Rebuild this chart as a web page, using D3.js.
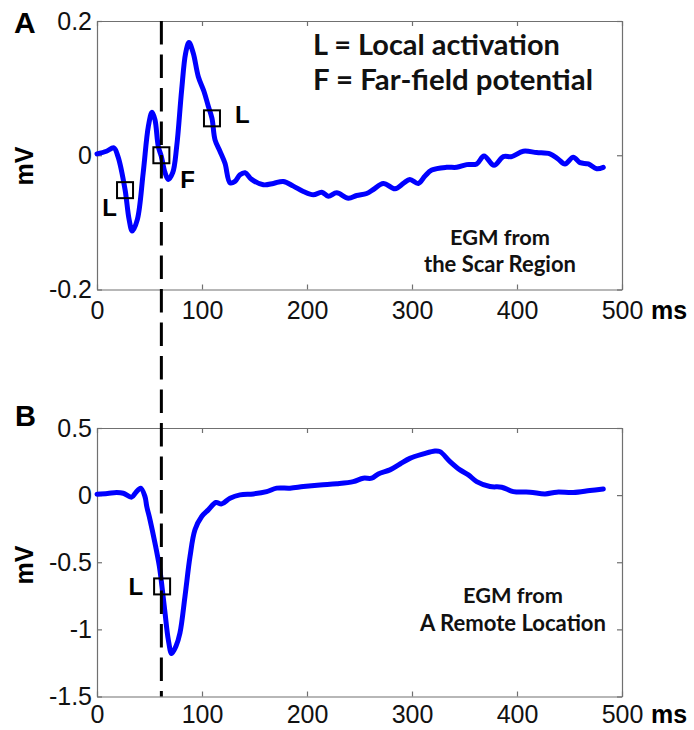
<!DOCTYPE html>
<html>
<head>
<meta charset="utf-8">
<script src="https://cdn.jsdelivr.net/npm/d3@7"></script>
<style>
  html, body { margin: 0; padding: 0; background: #fff; }
  svg { display: block; }
</style>
</head>
<body>
<svg id="fig" width="694" height="730"></svg>
<script>
// Electrogram recorded in the scar region (time in ms, voltage in mV)
const scarTime = [0, 9, 16, 20, 26.7, 30.5, 33.6, 38.4, 44, 48.9, 52.4, 55.2, 58.4, 61.3, 64.8, 67.9,
  72.1, 75.9, 80.6, 84.4, 87.6, 91.7, 96.5, 101.9, 106, 109.5, 112.4, 117.1, 121.9, 126.7, 131.4,
  136.2, 141, 147.3, 158.4, 168, 177.4, 187, 196.5, 206, 214, 220.3, 228.3, 239.4, 247.3, 256.8,
  263.2, 272.7, 283.8, 291.7, 298, 306, 312.4, 318.8, 333, 342.6, 352.1, 361.6, 368.6, 378.1, 387,
  394.9, 406, 418.7, 431.4, 439.4, 445.7, 453.6, 460, 467.9, 475.9, 482.2];
const scarMv = [0.002, 0.006, 0.011, -0.002, -0.051, -0.095, -0.113, -0.096, -0.026, 0.043, 0.064,
  0.053, 0.013, -0.002, -0.026, -0.036, -0.026, 0.013, 0.097, 0.152, 0.168, 0.152, 0.117, 0.095,
  0.073, 0.055, 0.023, 0.006, -0.012, -0.041, -0.039, -0.029, -0.026, -0.036, -0.044, -0.042,
  -0.039, -0.046, -0.054, -0.059, -0.055, -0.061, -0.056, -0.064, -0.060, -0.057, -0.051, -0.042,
  -0.050, -0.042, -0.036, -0.042, -0.031, -0.022, -0.018, -0.018, -0.014, -0.013, -0.001, -0.015,
  -0.002, -0.002, 0.006, 0.004, 0.002, -0.006, -0.013, -0.003, -0.011, -0.013, -0.020, -0.018];

// Electrogram recorded at a remote location
const remoteTime = [0, 10, 18.7, 25, 33, 37, 41.6, 45.7, 47.4, 50.5, 55.2, 59.4, 61.9, 64.8, 67.9,
  71.1, 75.2, 79, 83.8, 88.6, 93.3, 99.7, 106, 113.3, 118.7, 126.7, 136.2, 148.9, 161.6, 171.1,
  183.8, 196.5, 212.4, 228.3, 244.1, 253.6, 261.6, 267.9, 279, 288.6, 298, 310.8, 321.9, 326.7,
  336.2, 345.7, 353.7, 361.6, 374.3, 385.4, 396.5, 412.4, 426.7, 437.8, 453.6, 469.5, 482.2];
const remoteMv = [0.007, 0.012, 0.019, 0.014, -0.015, 0.02, 0.052, -0.011, -0.085, -0.184, -0.357,
  -0.531, -0.682, -0.878, -1.076, -1.18, -1.126, -1.027, -0.754, -0.457, -0.258, -0.159, -0.110,
  -0.055, -0.065, -0.023, 0.002, 0.009, 0.026, 0.052, 0.052, 0.064, 0.076, 0.085, 0.101, 0.126,
  0.126, 0.158, 0.188, 0.232, 0.274, 0.307, 0.329, 0.324, 0.250, 0.188, 0.151, 0.101, 0.064, 0.059,
  0.026, 0.022, 0.009, 0.022, 0.019, 0.034, 0.046];

// Marked activation points
const scarMarkTime = [26.7, 61.3, 109.5];
const scarMarkMv = [-0.052, 0, 0.055];
const scarMarkLabel = ["L", "F", "L"];
const remoteMarkTime = [62];
const remoteMarkMv = [-0.68];
const remoteMarkLabel = ["L"];

// Reference time shared by both recordings
const refTime = 61.3;

// Axis ticks
const xTicks = [0, 100, 200, 300, 400, 500];
const xTickLabels = ["0", "100", "200", "300", "400", "500"];
const yTicksA = [-0.2, 0, 0.2];
const yTickLabelsA = ["-0.2", "0", "0.2"];
const yTicksB = [-1.5, -1, -0.5, 0, 0.5];
const yTickLabelsB = ["-1.5", "-1", "-0.5", "0", "0.5"];

const svg = d3.select("#fig");
svg.append("rect").attr("width", 694).attr("height", 730).attr("fill", "#fff");

const tickFont = "'Liberation Sans', Arial, sans-serif";
const noteFont = "Lato, 'Open Sans', sans-serif";
const axisColor = "#707070";

const x = d3.scaleLinear().domain([0, 500]).range([97, 622]);
const yA = d3.scaleLinear().domain([-0.2, 0.2]).range([289.5, 21]);
const yB = d3.scaleLinear().domain([-1.5, 0.5]).range([696.5, 428]);

function drawAxes(y, yTicks, yLabels, pad) {
  const [y0, y1] = y.range();
  const [x0, x1] = x.range();
  const fmt = (vals, labels) => d => labels[vals.indexOf(d)];

  const bottom = svg.append("g").attr("transform", `translate(0,${y0})`)
    .call(d3.axisBottom(x).tickValues(xTicks).tickFormat(fmt(xTicks, xTickLabels))
      .tickSizeInner(-5).tickSizeOuter(0).tickPadding(pad));
  const top = svg.append("g").attr("transform", `translate(0,${y1})`)
    .call(d3.axisTop(x).tickValues(xTicks).tickFormat("").tickSizeInner(-5).tickSizeOuter(0));
  const left = svg.append("g").attr("transform", `translate(${x0},0)`)
    .call(d3.axisLeft(y).tickValues(yTicks).tickFormat(fmt(yTicks, yLabels))
      .tickSizeInner(-5).tickSizeOuter(0).tickPadding(5));
  const right = svg.append("g").attr("transform", `translate(${x1},0)`)
    .call(d3.axisRight(y).tickValues(yTicks).tickFormat("").tickSizeInner(-5).tickSizeOuter(0));

  [bottom, top, left, right].forEach(g => {
    g.selectAll("path.domain").attr("stroke", axisColor).attr("stroke-width", 1.2);
    g.selectAll(".tick line").attr("stroke", axisColor).attr("stroke-width", 1.2);
    g.selectAll(".tick text").attr("fill", "#111").attr("font-family", tickFont)
      .attr("font-size", 25);
  });
}

function drawTrace(y, times, values) {
  const pts = times.map((t, i) => [t, values[i]]);
  svg.append("path")
    .datum(pts)
    .attr("fill", "none")
    .attr("stroke", "#0000ff")
    .attr("stroke-width", 5)
    .attr("stroke-linejoin", "round")
    .attr("stroke-linecap", "round")
    .attr("d", d3.line().x(d => x(d[0])).y(d => y(d[1])).curve(d3.curveCatmullRom.alpha(0.5)));
}

function drawMarks(y, times, values, labels, offsets) {
  times.forEach((t, i) => {
    const cx = x(t), cy = y(values[i]);
    svg.append("rect")
      .attr("x", cx - 8).attr("y", cy - 8).attr("width", 16).attr("height", 16)
      .attr("fill", "none").attr("stroke", "#000").attr("stroke-width", 2);
    const o = offsets[i];
    svg.append("text")
      .attr("x", cx + o[0]).attr("y", cy + o[1])
      .attr("text-anchor", o[2])
      .attr("font-family", tickFont).attr("font-weight", "bold").attr("font-size", 24)
      .attr("fill", "#000")
      .text(labels[i]);
  });
}

// Fit a text element to a given width by scaling its font size
function fitText(sel, width) {
  const w = sel.node().getComputedTextLength();
  const fs = parseFloat(sel.attr("font-size"));
  sel.attr("font-size", fs * width / w);
  return sel;
}

function note(xPos, yPos, str, size, anchor, width) {
  const t = svg.append("text")
    .attr("x", xPos).attr("y", yPos)
    .attr("text-anchor", anchor)
    .attr("font-family", noteFont).attr("font-weight", 700)
    .attr("font-size", size).attr("fill", "#111")
    .text(str);
  if (width) fitText(t, width);
  return t;
}

function boldLabel(xPos, yPos, str, size, rotate) {
  const t = svg.append("text")
    .attr("font-family", tickFont).attr("font-weight", "bold")
    .attr("font-size", size).attr("fill", "#000")
    .text(str);
  if (rotate) {
    t.attr("text-anchor", "middle").attr("transform", `translate(${xPos},${yPos}) rotate(-90)`);
  } else {
    t.attr("x", xPos).attr("y", yPos);
  }
}

// Panel A: scar region
drawAxes(yA, yTicksA, yTickLabelsA, 12);
drawTrace(yA, scarTime, scarMv);
drawMarks(yA, scarMarkTime, scarMarkMv, scarMarkLabel,
  [[-8, 26, "end"], [19, 33, "start"], [23, 5, "start"]]);

// Panel B: remote location
drawAxes(yB, yTicksB, yTickLabelsB, 9);
drawTrace(yB, remoteTime, remoteMv);
drawMarks(yB, remoteMarkTime, remoteMarkMv, remoteMarkLabel, [[-19, 9, "end"]]);

// Vertical dashed reference line through both panels
svg.append("line")
  .attr("x1", x(refTime)).attr("x2", x(refTime))
  .attr("y1", yA.range()[1]).attr("y2", yB.range()[0])
  .attr("stroke", "#000").attr("stroke-width", 3)
  .attr("stroke-dasharray", "23.5,10");

// Panel letters and axis units
boldLabel(14, 33, "A", 30);
boldLabel(15, 426, "B", 29);
boldLabel(33, 166, "mV", 25, true);
boldLabel(33, 565, "mV", 25, true);
boldLabel(651, 319, "ms", 25);
boldLabel(651, 723, "ms", 25);

// Legend and panel descriptions
note(313, 55, "L = Local activation", 27, "start", 247);
note(313, 90, "F = Far-field potential", 27, "start", 280);
note(500, 245, "EGM from", 22, "middle", 100);
note(500, 272, "the Scar Region", 22, "middle", 152);
note(513, 603, "EGM from", 22, "middle", 100);
note(513, 631, "A Remote Location", 22, "middle", 186);
</script>
</body>
</html>
